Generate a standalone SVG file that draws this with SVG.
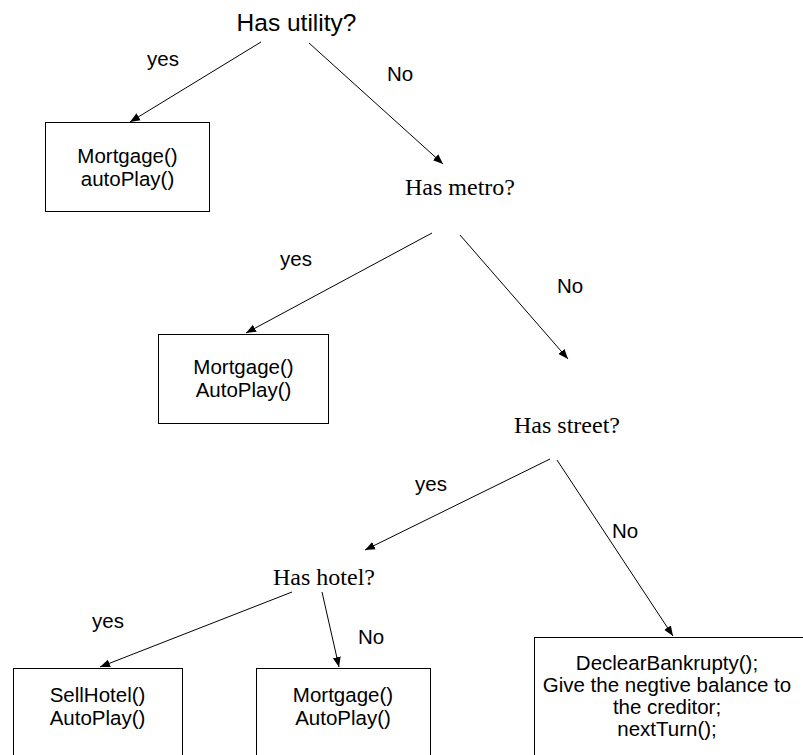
<svg xmlns="http://www.w3.org/2000/svg" width="803" height="755" viewBox="0 0 803 755">
<style>
.q{font-family:"Liberation Serif","Times New Roman",serif;font-size:24px;fill:#000;text-anchor:middle}
.q0{font-family:"Liberation Sans",Arial,sans-serif;font-size:24.5px;fill:#000;text-anchor:middle}
.lb{font-family:"Liberation Sans",Arial,sans-serif;font-size:20.5px;fill:#000}
.t{font-family:"Liberation Sans",Arial,sans-serif;font-size:20.5px;fill:#000;text-anchor:middle}
.box{fill:#fff;stroke:#000;stroke-width:1}
.c{stroke:#000;stroke-width:1;fill:none;marker-end:url(#ah)}
</style>
<defs>
<marker id="ah" viewBox="0 0 10 10" refX="10" refY="5" markerWidth="10" markerHeight="10" markerUnits="userSpaceOnUse" orient="auto">
<path d="M0,1 L10,5 L0,9 Z" fill="#000"/>
</marker>
</defs>
<rect width="803" height="755" fill="#fff"/>
<g id="connectors">
<line class="c" x1="261" y1="42" x2="130" y2="122"/>
<line class="c" x1="309" y1="43" x2="443" y2="164"/>
<line class="c" x1="432" y1="233" x2="246" y2="333"/>
<line class="c" x1="460" y1="235" x2="568" y2="359"/>
<line class="c" x1="550" y1="459" x2="365" y2="550"/>
<line class="c" x1="557" y1="460" x2="673" y2="636"/>
<line class="c" x1="292" y1="592" x2="100" y2="667"/>
<line class="c" x1="322" y1="592" x2="339" y2="667"/>
<text class="lb" x="147" y="66">yes</text>
<text class="lb" x="387" y="81">No</text>
<text class="lb" x="280" y="266">yes</text>
<text class="lb" x="557" y="293">No</text>
<text class="lb" x="415" y="491">yes</text>
<text class="lb" x="612" y="538">No</text>
<text class="lb" x="92" y="628">yes</text>
<text class="lb" x="358" y="644">No</text>
</g>
<g id="q-utility"><text class="q0" x="296.5" y="31">Has utility?</text></g>
<g id="q-metro"><text class="q" x="460" y="195">Has metro?</text></g>
<g id="q-street"><text class="q" x="567" y="433">Has street?</text></g>
<g id="q-hotel"><text class="q" x="324" y="585">Has hotel?</text></g>
<g id="box-utility-yes">
<rect class="box" x="45.5" y="122.5" width="164" height="89"/>
<text class="t" x="127.5" y="163">Mortgage()</text>
<text class="t" x="127.5" y="186">autoPlay()</text>
</g>
<g id="box-metro-yes">
<rect class="box" x="158.5" y="334.5" width="170" height="89"/>
<text class="t" x="243.5" y="374">Mortgage()</text>
<text class="t" x="243.5" y="397">AutoPlay()</text>
</g>
<g id="box-hotel-yes">
<rect class="box" x="13.5" y="668.5" width="169" height="100"/>
<text class="t" x="97.5" y="702">SellHotel()</text>
<text class="t" x="97.5" y="725">AutoPlay()</text>
</g>
<g id="box-hotel-no">
<rect class="box" x="256.5" y="668.5" width="174" height="100"/>
<text class="t" x="343" y="702">Mortgage()</text>
<text class="t" x="343" y="725">AutoPlay()</text>
</g>
<g id="box-bankrupt">
<rect class="box" x="534.5" y="637.5" width="280" height="130"/>
<text class="t" x="667" y="670">DeclearBankrupty();</text>
<text class="t" x="667" y="692">Give the negtive balance to</text>
<text class="t" x="667" y="714">the creditor;</text>
<text class="t" x="667" y="736">nextTurn();</text>
</g>
</svg>
